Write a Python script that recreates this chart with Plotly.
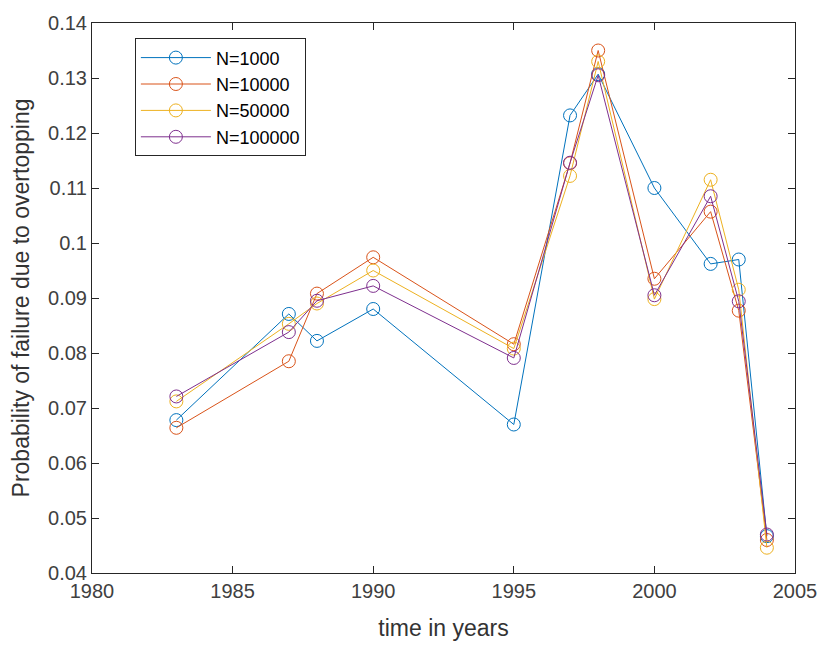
import plotly.graph_objects as go

years = [1983, 1987, 1988, 1990, 1995, 1997, 1998, 2000, 2002, 2003, 2004]

p_n1000 = [0.0678, 0.0871, 0.0822, 0.0880, 0.0670, 0.1232, 0.1307, 0.1100, 0.0962, 0.0970, 0.0467]
p_n10000 = [0.0664, 0.0785, 0.0908, 0.0974, 0.0816, 0.1145, 0.1350, 0.0935, 0.1057, 0.0877, 0.0460]
p_n50000 = [0.0712, 0.0853, 0.0890, 0.0950, 0.0808, 0.1122, 0.1330, 0.0898, 0.1115, 0.0915, 0.0446]
p_n100000 = [0.0721, 0.0838, 0.0895, 0.0922, 0.0791, 0.1146, 0.1305, 0.0905, 0.1085, 0.0894, 0.0470]

series = [
    ("N=1000", p_n1000, "#0072BD"),
    ("N=10000", p_n10000, "#D95319"),
    ("N=50000", p_n50000, "#EDB120"),
    ("N=100000", p_n100000, "#7E2F8E"),
]

FONT = "Liberation Sans, Arial, sans-serif"

fig = go.Figure()
for name, vals, color in series:
    fig.add_trace(go.Scatter(
        x=years, y=vals, name=name, mode="lines+markers",
        line=dict(color=color, width=1),
        marker=dict(symbol="circle-open", size=13, color=color, line=dict(width=1, color=color)),
    ))

axis_common = dict(
    showline=True, linecolor="#262626", linewidth=1, mirror="ticks",
    ticks="inside", ticklen=7, tickcolor="#262626", tickwidth=1,
    showgrid=False, zeroline=False,
    tickfont=dict(family=FONT, size=20, color="#404040"),
)

fig.update_xaxes(range=[1980, 2005], dtick=5, tick0=1980,
                 title=dict(text="time in years", font=dict(family=FONT, size=23, color="#333333"), standoff=18),
                 **axis_common)
fig.update_yaxes(range=[0.04, 0.14], dtick=0.01, tick0=0.04,
                 title=dict(text="Probability of failure due to overtopping", font=dict(family=FONT, size=23, color="#333333"), standoff=12),
                 **axis_common)

fig.update_layout(
    width=829, height=649,
    margin=dict(l=92, r=26, t=15, b=76),
    paper_bgcolor="white", plot_bgcolor="white",
    showlegend=True,
    legend=dict(
        x=0.061, y=0.972, xanchor="left", yanchor="top",
        bgcolor="white", bordercolor="#262626", borderwidth=1,
        font=dict(family=FONT, size=18, color="#000000"),
        tracegroupgap=0, itemwidth=70,
    ),
)

fig.write_html("out.html")
